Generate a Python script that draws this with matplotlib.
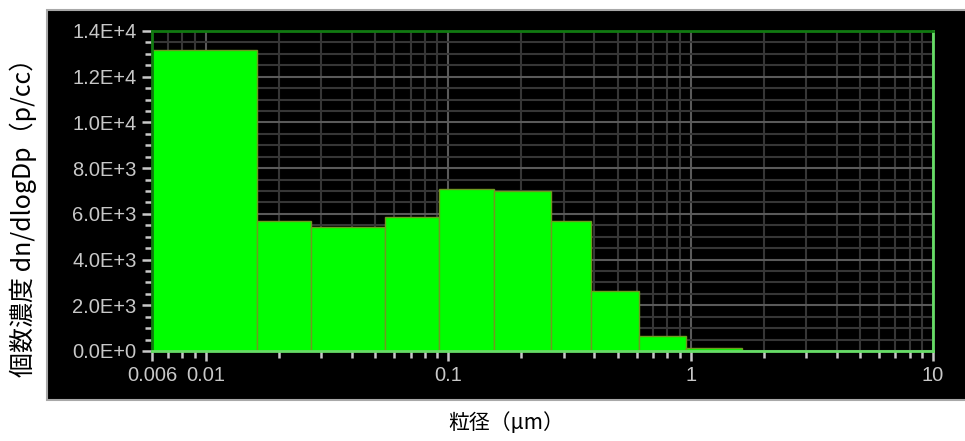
import matplotlib
matplotlib.use("Agg")
import matplotlib.pyplot as plt
from matplotlib.patches import Rectangle
from matplotlib.ticker import FixedLocator, LogLocator, NullFormatter, FixedFormatter

# ---- data ----
bin_edges = [0.006, 0.0162, 0.0272, 0.0548, 0.0918, 0.155, 0.265, 0.388, 0.614, 0.956, 1.63]
counts = [13150, 5690, 5430, 5870, 7090, 7010, 5690, 2620, 670, 140]
y_ticks = [0, 2000, 4000, 6000, 8000, 10000, 12000, 14000]
y_tick_labels = ["0.0E+0", "2.0E+3", "4.0E+3", "6.0E+3", "8.0E+3", "1.0E+4", "1.2E+4", "1.4E+4"]
x_ticks = [0.006, 0.01, 0.1, 1, 10]
x_tick_labels = ["0.006", "0.01", "0.1", "1", "10"]
x_label = "粒径（μm）"
y_label = "個数濃度 dn/dlogDp（p/cc）"

W, H = 965, 441
fig = plt.figure(figsize=(W / 100, H / 100), dpi=100)
fig.patch.set_facecolor("white")

# black panel (background axes)
bg = fig.add_axes([0, 0, 1, 1], zorder=0)
bg.set_xlim(0, W)
bg.set_ylim(H, 0)
bg.axis("off")
bg.add_patch(Rectangle((47, 10), W - 47 + 5, 390, facecolor="black",
                       edgecolor="#a8a8a8", linewidth=1.5))

left, right, top, bottom = 152, 933, 31, 351
ax = fig.add_axes([left / W, 1 - bottom / H, (right - left) / W, (bottom - top) / H], zorder=2)
ax.set_facecolor("black")
ax.set_xscale("log")
ax.set_xlim(0.006, 10)
ax.set_ylim(0, 14000)

widths = [b - a for a, b in zip(bin_edges[:-1], bin_edges[1:])]
ax.bar(bin_edges[:-1], counts, width=widths, align="edge", color="#00ff00",
       edgecolor="#6f9a20", linewidth=1.0, zorder=3)

# ticks
ax.yaxis.set_major_locator(FixedLocator(y_ticks))
ax.yaxis.set_major_formatter(FixedFormatter(y_tick_labels))
ax.yaxis.set_minor_locator(FixedLocator([v for v in range(0, 14001, 500) if v % 2000]))
ax.xaxis.set_major_locator(FixedLocator(x_ticks))
ax.xaxis.set_major_formatter(FixedFormatter(x_tick_labels))
ax.xaxis.set_minor_locator(LogLocator(base=10, subs=range(2, 10)))
ax.xaxis.set_minor_formatter(NullFormatter())

for lab in ax.get_xticklabels() + ax.get_yticklabels():
    lab.set_fontfamily("Liberation Sans")
    lab.set_fontsize(14.5)
ax.tick_params(axis="both", which="major", colors="#c8c8c8", labelcolor="#c8c8c8",
               length=7, width=1.8, direction="out", pad=4)
ax.tick_params(axis="both", which="minor", colors="#c8c8c8", length=5, width=1.8,
               direction="out")

# grid
ax.grid(True, which="minor", color="#363636", linewidth=1.5, zorder=1)
ax.grid(True, which="major", color="#5a5a5a", linewidth=1.5, zorder=1)
ax.set_axisbelow(True)

# spines
ax.spines["top"].set_color("#117a11")
ax.spines["left"].set_color("#117a11")
ax.spines["bottom"].set_color("#66dd66")
ax.spines["right"].set_color("#66dd66")
for s in ax.spines.values():
    s.set_linewidth(2)
    s.set_zorder(4)

fig.text(506 / W, 1 - 423 / H, x_label, ha="center", va="center", fontsize=15,
         family=["Noto Sans CJK JP", "DejaVu Sans"], color="black", zorder=3)
fig.text(23 / W, 1 - 211 / H, y_label, ha="center", va="center", rotation=90,
         fontsize=18, family=["Noto Sans CJK JP", "DejaVu Sans"], color="black", zorder=3)

fig.savefig("out.png", dpi=100)
